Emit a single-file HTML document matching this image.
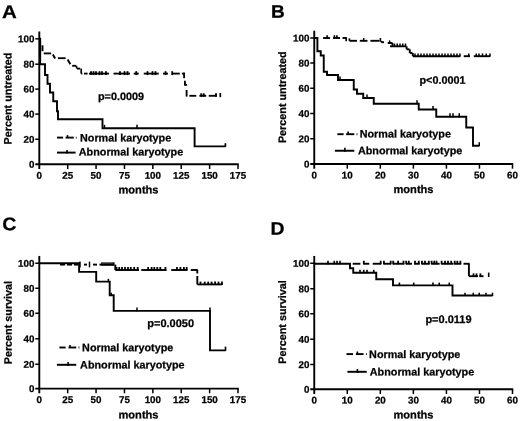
<!DOCTYPE html><html><head><meta charset="utf-8"><title>KM</title>
<style>html,body{margin:0;padding:0;background:#fff;overflow:hidden;width:520px;height:421px;}svg{display:block;will-change:transform;}text{font-family:'Liberation Sans', sans-serif;font-weight:bold;fill:#000;stroke:#000;stroke-width:0.25px;text-rendering:geometricPrecision;}</style></head><body>
<svg width="520" height="421" viewBox="0 0 520 421">
<rect width="520" height="421" fill="#fff"/>
<text transform="translate(1.90,18.00) rotate(0.03) scale(1.12,1)" font-size="18.3">A</text>
<line x1="39.30" y1="31.50" x2="39.30" y2="169.00" stroke="#000" stroke-width="1.9" />
<line x1="35.30" y1="164.30" x2="238.70" y2="164.30" stroke="#000" stroke-width="1.9" />
<text transform="translate(34.40,167.70) rotate(0.03)" font-size="9.8" text-anchor="end" >0</text>
<line x1="35.30" y1="139.25" x2="39.30" y2="139.25" stroke="#000" stroke-width="1.5" />
<text transform="translate(34.40,142.65) rotate(0.03)" font-size="9.8" text-anchor="end" >20</text>
<line x1="35.30" y1="114.10" x2="39.30" y2="114.10" stroke="#000" stroke-width="1.5" />
<text transform="translate(34.40,117.50) rotate(0.03)" font-size="9.8" text-anchor="end" >40</text>
<line x1="35.30" y1="89.10" x2="39.30" y2="89.10" stroke="#000" stroke-width="1.5" />
<text transform="translate(34.40,92.50) rotate(0.03)" font-size="9.8" text-anchor="end" >60</text>
<line x1="35.30" y1="64.20" x2="39.30" y2="64.20" stroke="#000" stroke-width="1.5" />
<text transform="translate(34.40,67.60) rotate(0.03)" font-size="9.8" text-anchor="end" >80</text>
<line x1="35.30" y1="38.80" x2="39.30" y2="38.80" stroke="#000" stroke-width="1.5" />
<text transform="translate(34.40,42.20) rotate(0.03)" font-size="9.8" text-anchor="end" >100</text>
<text transform="translate(39.30,178.80) rotate(0.03)" font-size="9.8" text-anchor="middle" >0</text>
<line x1="67.69" y1="164.30" x2="67.69" y2="169.00" stroke="#000" stroke-width="1.5" />
<text transform="translate(67.69,178.80) rotate(0.03)" font-size="9.8" text-anchor="middle" >25</text>
<line x1="96.07" y1="164.30" x2="96.07" y2="169.00" stroke="#000" stroke-width="1.5" />
<text transform="translate(96.07,178.80) rotate(0.03)" font-size="9.8" text-anchor="middle" >50</text>
<line x1="124.46" y1="164.30" x2="124.46" y2="169.00" stroke="#000" stroke-width="1.5" />
<text transform="translate(124.46,178.80) rotate(0.03)" font-size="9.8" text-anchor="middle" >75</text>
<line x1="152.84" y1="164.30" x2="152.84" y2="169.00" stroke="#000" stroke-width="1.5" />
<text transform="translate(152.84,178.80) rotate(0.03)" font-size="9.8" text-anchor="middle" >100</text>
<line x1="181.23" y1="164.30" x2="181.23" y2="169.00" stroke="#000" stroke-width="1.5" />
<text transform="translate(181.23,178.80) rotate(0.03)" font-size="9.8" text-anchor="middle" >125</text>
<line x1="209.61" y1="164.30" x2="209.61" y2="169.00" stroke="#000" stroke-width="1.5" />
<text transform="translate(209.61,178.80) rotate(0.03)" font-size="9.8" text-anchor="middle" >150</text>
<line x1="238.00" y1="164.30" x2="238.00" y2="169.00" stroke="#000" stroke-width="1.5" />
<text transform="translate(238.00,178.80) rotate(0.03)" font-size="9.8" text-anchor="middle" >175</text>
<text transform="translate(138.50,193.60) rotate(0.03)" font-size="11.1" text-anchor="middle" >months</text>
<text transform="translate(11.50,98.50) rotate(-90.03)" font-size="10.8" text-anchor="middle">Percent untreated</text>
<path d="M39.30,38.80 L40.20,38.80 L40.20,64.20 L45.00,64.20 L45.00,75.00 L47.50,75.00 L47.50,83.75 L50.00,83.75 L50.00,92.50 L53.25,92.50 L53.25,101.25 L57.00,101.25 L57.00,111.25 L58.00,111.25 L58.00,119.25 L102.50,119.25 L102.50,128.25 L194.60,128.25 L194.60,146.40 L225.50,146.40" fill="none" stroke="#000" stroke-width="1.9" stroke-linejoin="miter" />
<line x1="104.50" y1="128.75" x2="104.50" y2="124.85" stroke="#000" stroke-width="1.5" />
<line x1="137.00" y1="128.75" x2="137.00" y2="124.85" stroke="#000" stroke-width="1.5" />
<line x1="225.40" y1="146.90" x2="225.40" y2="143.20" stroke="#000" stroke-width="1.7" />
<line x1="42.50" y1="45.30" x2="42.50" y2="51.20" stroke="#000" stroke-width="1.9" />
<line x1="43.70" y1="53.40" x2="51.20" y2="53.40" stroke="#000" stroke-width="1.85" />
<line x1="52.80" y1="54.60" x2="55.20" y2="58.60" stroke="#000" stroke-width="1.9" />
<line x1="57.90" y1="58.20" x2="65.60" y2="58.20" stroke="#000" stroke-width="1.85" />
<line x1="67.60" y1="59.60" x2="70.40" y2="64.20" stroke="#000" stroke-width="1.9" />
<line x1="72.20" y1="65.80" x2="76.20" y2="65.80" stroke="#000" stroke-width="1.85" />
<line x1="76.60" y1="65.80" x2="76.60" y2="68.60" stroke="#000" stroke-width="1.5" />
<line x1="77.00" y1="68.60" x2="80.20" y2="68.60" stroke="#000" stroke-width="1.85" />
<line x1="81.20" y1="68.60" x2="81.20" y2="73.60" stroke="#000" stroke-width="1.7" />
<line x1="81.20" y1="73.60" x2="82.40" y2="73.60" stroke="#000" stroke-width="1.85" />
<line x1="84.00" y1="73.60" x2="87.60" y2="73.60" stroke="#000" stroke-width="1.85" />
<line x1="89.00" y1="73.60" x2="109.00" y2="73.60" stroke="#000" stroke-width="1.85" />
<line x1="113.50" y1="73.60" x2="130.00" y2="73.60" stroke="#000" stroke-width="1.85" />
<line x1="133.75" y1="73.60" x2="138.75" y2="73.60" stroke="#000" stroke-width="1.85" />
<line x1="143.75" y1="73.60" x2="158.75" y2="73.60" stroke="#000" stroke-width="1.85" />
<line x1="163.00" y1="73.60" x2="168.00" y2="73.60" stroke="#000" stroke-width="1.85" />
<line x1="171.90" y1="73.60" x2="179.80" y2="73.60" stroke="#000" stroke-width="1.85" />
<line x1="181.90" y1="73.60" x2="184.90" y2="73.60" stroke="#000" stroke-width="1.85" />
<line x1="91.00" y1="75.10" x2="91.00" y2="71.20" stroke="#000" stroke-width="1.8" />
<line x1="93.50" y1="75.10" x2="93.50" y2="71.20" stroke="#000" stroke-width="1.8" />
<line x1="96.00" y1="75.10" x2="96.00" y2="71.20" stroke="#000" stroke-width="1.8" />
<line x1="99.50" y1="75.10" x2="99.50" y2="71.20" stroke="#000" stroke-width="1.8" />
<line x1="102.00" y1="75.10" x2="102.00" y2="71.20" stroke="#000" stroke-width="1.8" />
<line x1="106.00" y1="75.10" x2="106.00" y2="71.20" stroke="#000" stroke-width="1.8" />
<line x1="120.00" y1="75.10" x2="120.00" y2="71.20" stroke="#000" stroke-width="1.8" />
<line x1="124.50" y1="75.10" x2="124.50" y2="71.20" stroke="#000" stroke-width="1.8" />
<line x1="127.50" y1="75.10" x2="127.50" y2="71.20" stroke="#000" stroke-width="1.8" />
<line x1="136.25" y1="75.10" x2="136.25" y2="71.20" stroke="#000" stroke-width="1.8" />
<line x1="147.50" y1="75.10" x2="147.50" y2="71.20" stroke="#000" stroke-width="1.8" />
<line x1="152.50" y1="75.10" x2="152.50" y2="71.20" stroke="#000" stroke-width="1.8" />
<line x1="155.50" y1="75.10" x2="155.50" y2="71.20" stroke="#000" stroke-width="1.8" />
<line x1="165.50" y1="75.10" x2="165.50" y2="71.20" stroke="#000" stroke-width="1.8" />
<line x1="172.20" y1="75.10" x2="172.20" y2="71.20" stroke="#000" stroke-width="1.8" />
<line x1="184.10" y1="72.70" x2="184.10" y2="78.20" stroke="#000" stroke-width="1.85" />
<line x1="184.90" y1="80.75" x2="184.90" y2="85.60" stroke="#000" stroke-width="1.85" />
<line x1="184.90" y1="84.80" x2="187.10" y2="84.80" stroke="#000" stroke-width="1.85" />
<line x1="186.60" y1="90.00" x2="186.60" y2="96.60" stroke="#000" stroke-width="1.85" />
<line x1="189.40" y1="95.80" x2="196.25" y2="95.80" stroke="#000" stroke-width="1.85" />
<line x1="199.40" y1="95.80" x2="206.25" y2="95.80" stroke="#000" stroke-width="1.85" />
<line x1="208.75" y1="95.80" x2="216.90" y2="95.80" stroke="#000" stroke-width="1.85" />
<line x1="201.25" y1="96.70" x2="201.25" y2="93.30" stroke="#000" stroke-width="1.9" />
<line x1="203.75" y1="96.70" x2="203.75" y2="93.30" stroke="#000" stroke-width="1.9" />
<line x1="216.00" y1="96.70" x2="216.00" y2="93.30" stroke="#000" stroke-width="1.9" />
<line x1="220.30" y1="97.20" x2="220.30" y2="93.00" stroke="#000" stroke-width="1.7" />
<text transform="translate(98.00,100.00) rotate(0.03)" font-size="10.8" text-anchor="start" >p=0.0009</text>
<line x1="57.00" y1="137.60" x2="63.10" y2="137.60" stroke="#000" stroke-width="1.9" />
<line x1="65.60" y1="137.60" x2="73.75" y2="137.60" stroke="#000" stroke-width="1.9" />
<line x1="75.80" y1="137.60" x2="76.60" y2="137.60" stroke="#000" stroke-width="1.9" />
<line x1="67.50" y1="138.10" x2="67.50" y2="135.10" stroke="#000" stroke-width="1.6" />
<text transform="translate(80.00,141.50) rotate(0.03)" font-size="10.8" text-anchor="start" >Normal karyotype</text>
<line x1="57.00" y1="152.60" x2="75.60" y2="152.60" stroke="#000" stroke-width="1.95" />
<line x1="67.00" y1="153.60" x2="67.00" y2="149.90" stroke="#000" stroke-width="1.6" />
<text transform="translate(78.80,155.40) rotate(0.03)" font-size="10.8" text-anchor="start" >Abnormal karyotype</text>
<text transform="translate(270.90,17.70) rotate(0.03) scale(1.04,1)" font-size="18.3">B</text>
<line x1="314.25" y1="30.70" x2="314.25" y2="168.70" stroke="#000" stroke-width="1.9" />
<line x1="310.25" y1="164.00" x2="513.20" y2="164.00" stroke="#000" stroke-width="1.9" />
<text transform="translate(309.35,167.40) rotate(0.03)" font-size="9.8" text-anchor="end" >0</text>
<line x1="310.25" y1="138.75" x2="314.25" y2="138.75" stroke="#000" stroke-width="1.5" />
<text transform="translate(309.35,142.15) rotate(0.03)" font-size="9.8" text-anchor="end" >20</text>
<line x1="310.25" y1="113.50" x2="314.25" y2="113.50" stroke="#000" stroke-width="1.5" />
<text transform="translate(309.35,116.90) rotate(0.03)" font-size="9.8" text-anchor="end" >40</text>
<line x1="310.25" y1="88.25" x2="314.25" y2="88.25" stroke="#000" stroke-width="1.5" />
<text transform="translate(309.35,91.65) rotate(0.03)" font-size="9.8" text-anchor="end" >60</text>
<line x1="310.25" y1="63.00" x2="314.25" y2="63.00" stroke="#000" stroke-width="1.5" />
<text transform="translate(309.35,66.40) rotate(0.03)" font-size="9.8" text-anchor="end" >80</text>
<line x1="310.25" y1="38.00" x2="314.25" y2="38.00" stroke="#000" stroke-width="1.5" />
<text transform="translate(309.35,41.40) rotate(0.03)" font-size="9.8" text-anchor="end" >100</text>
<text transform="translate(314.25,178.50) rotate(0.03)" font-size="9.8" text-anchor="middle" >0</text>
<line x1="347.29" y1="164.00" x2="347.29" y2="168.70" stroke="#000" stroke-width="1.5" />
<text transform="translate(347.29,178.50) rotate(0.03)" font-size="9.8" text-anchor="middle" >10</text>
<line x1="380.33" y1="164.00" x2="380.33" y2="168.70" stroke="#000" stroke-width="1.5" />
<text transform="translate(380.33,178.50) rotate(0.03)" font-size="9.8" text-anchor="middle" >20</text>
<line x1="413.38" y1="164.00" x2="413.38" y2="168.70" stroke="#000" stroke-width="1.5" />
<text transform="translate(413.38,178.50) rotate(0.03)" font-size="9.8" text-anchor="middle" >30</text>
<line x1="446.42" y1="164.00" x2="446.42" y2="168.70" stroke="#000" stroke-width="1.5" />
<text transform="translate(446.42,178.50) rotate(0.03)" font-size="9.8" text-anchor="middle" >40</text>
<line x1="479.46" y1="164.00" x2="479.46" y2="168.70" stroke="#000" stroke-width="1.5" />
<text transform="translate(479.46,178.50) rotate(0.03)" font-size="9.8" text-anchor="middle" >50</text>
<line x1="512.50" y1="164.00" x2="512.50" y2="168.70" stroke="#000" stroke-width="1.5" />
<text transform="translate(512.50,178.50) rotate(0.03)" font-size="9.8" text-anchor="middle" >60</text>
<text transform="translate(413.50,192.90) rotate(0.03)" font-size="11.1" text-anchor="middle" >months</text>
<text transform="translate(286.00,97.20) rotate(-90.03)" font-size="10.8" text-anchor="middle">Percent untreated</text>
<path d="M314.25,38.00 L317.40,38.00 L317.40,51.25 L320.75,51.25 L320.75,55.50 L323.75,55.50 L323.75,71.75 L327.00,71.75 L327.00,75.00 L338.00,75.00 L338.00,80.00 L353.75,80.00 L353.75,89.50 L357.00,89.50 L357.00,93.75 L363.25,93.75 L363.25,98.00 L373.75,98.00 L373.75,103.75 L418.75,103.75 L418.75,109.50 L436.25,109.50 L436.25,116.75 L466.25,116.75 L466.25,127.50 L473.00,127.50 L473.00,145.75 L479.25,145.75" fill="none" stroke="#000" stroke-width="1.9" stroke-linejoin="miter" />
<line x1="340.00" y1="80.50" x2="340.00" y2="76.60" stroke="#000" stroke-width="1.5" />
<line x1="367.00" y1="98.50" x2="367.00" y2="94.60" stroke="#000" stroke-width="1.5" />
<line x1="417.00" y1="104.25" x2="417.00" y2="100.35" stroke="#000" stroke-width="1.5" />
<line x1="433.00" y1="110.00" x2="433.00" y2="106.10" stroke="#000" stroke-width="1.5" />
<line x1="450.00" y1="117.25" x2="450.00" y2="113.35" stroke="#000" stroke-width="1.5" />
<line x1="453.00" y1="117.25" x2="453.00" y2="113.35" stroke="#000" stroke-width="1.5" />
<line x1="459.25" y1="117.25" x2="459.25" y2="113.35" stroke="#000" stroke-width="1.5" />
<line x1="479.25" y1="146.25" x2="479.25" y2="142.35" stroke="#000" stroke-width="1.5" />
<line x1="314.25" y1="38.00" x2="317.60" y2="38.00" stroke="#000" stroke-width="1.9" />
<line x1="323.10" y1="38.00" x2="330.00" y2="38.00" stroke="#000" stroke-width="1.9" />
<line x1="333.10" y1="38.00" x2="340.00" y2="38.00" stroke="#000" stroke-width="1.9" />
<line x1="342.50" y1="38.00" x2="346.20" y2="38.00" stroke="#000" stroke-width="1.9" />
<line x1="327.10" y1="38.50" x2="327.10" y2="35.20" stroke="#000" stroke-width="1.6" />
<line x1="334.40" y1="38.50" x2="334.40" y2="35.20" stroke="#000" stroke-width="1.6" />
<line x1="336.90" y1="38.50" x2="336.90" y2="35.20" stroke="#000" stroke-width="1.6" />
<line x1="346.20" y1="37.20" x2="346.20" y2="41.20" stroke="#000" stroke-width="1.7" />
<line x1="349.40" y1="38.40" x2="349.40" y2="40.80" stroke="#000" stroke-width="1.7" />
<line x1="349.40" y1="40.80" x2="357.00" y2="40.80" stroke="#000" stroke-width="1.9" />
<line x1="359.80" y1="40.80" x2="367.50" y2="40.80" stroke="#000" stroke-width="1.9" />
<line x1="370.40" y1="40.80" x2="379.50" y2="40.80" stroke="#000" stroke-width="1.9" />
<line x1="363.70" y1="41.30" x2="363.70" y2="38.00" stroke="#000" stroke-width="1.5" />
<line x1="380.40" y1="41.30" x2="380.40" y2="38.00" stroke="#000" stroke-width="1.5" />
<line x1="381.20" y1="40.80" x2="381.20" y2="42.20" stroke="#000" stroke-width="1.9" />
<line x1="381.20" y1="42.20" x2="384.00" y2="42.20" stroke="#000" stroke-width="1.9" />
<line x1="387.70" y1="43.00" x2="392.50" y2="43.00" stroke="#000" stroke-width="1.9" />
<line x1="389.60" y1="43.50" x2="389.60" y2="40.40" stroke="#000" stroke-width="1.5" />
<line x1="392.50" y1="43.00" x2="392.50" y2="46.30" stroke="#000" stroke-width="1.9" />
<line x1="390.00" y1="46.30" x2="406.25" y2="46.30" stroke="#000" stroke-width="1.9" />
<line x1="394.50" y1="46.80" x2="394.50" y2="43.50" stroke="#000" stroke-width="1.5" />
<line x1="397.25" y1="46.80" x2="397.25" y2="43.50" stroke="#000" stroke-width="1.5" />
<line x1="400.00" y1="46.80" x2="400.00" y2="43.50" stroke="#000" stroke-width="1.5" />
<line x1="402.75" y1="46.80" x2="402.75" y2="43.50" stroke="#000" stroke-width="1.5" />
<line x1="405.50" y1="46.80" x2="405.50" y2="43.50" stroke="#000" stroke-width="1.5" />
<line x1="406.60" y1="46.30" x2="406.60" y2="49.30" stroke="#000" stroke-width="1.9" />
<line x1="406.60" y1="49.30" x2="409.50" y2="49.30" stroke="#000" stroke-width="1.9" />
<line x1="409.80" y1="49.30" x2="409.80" y2="53.00" stroke="#000" stroke-width="1.9" />
<line x1="409.80" y1="53.00" x2="412.50" y2="53.00" stroke="#000" stroke-width="1.9" />
<line x1="412.80" y1="53.00" x2="412.80" y2="56.20" stroke="#000" stroke-width="1.9" />
<line x1="412.80" y1="56.20" x2="460.00" y2="56.20" stroke="#000" stroke-width="1.9" />
<line x1="463.75" y1="56.20" x2="470.00" y2="56.20" stroke="#000" stroke-width="1.9" />
<line x1="473.75" y1="56.20" x2="490.00" y2="56.20" stroke="#000" stroke-width="1.9" />
<line x1="415.00" y1="56.70" x2="415.00" y2="53.40" stroke="#000" stroke-width="1.5" />
<line x1="418.00" y1="56.70" x2="418.00" y2="53.40" stroke="#000" stroke-width="1.5" />
<line x1="421.00" y1="56.70" x2="421.00" y2="53.40" stroke="#000" stroke-width="1.5" />
<line x1="424.00" y1="56.70" x2="424.00" y2="53.40" stroke="#000" stroke-width="1.5" />
<line x1="427.00" y1="56.70" x2="427.00" y2="53.40" stroke="#000" stroke-width="1.5" />
<line x1="430.00" y1="56.70" x2="430.00" y2="53.40" stroke="#000" stroke-width="1.5" />
<line x1="433.00" y1="56.70" x2="433.00" y2="53.40" stroke="#000" stroke-width="1.5" />
<line x1="436.00" y1="56.70" x2="436.00" y2="53.40" stroke="#000" stroke-width="1.5" />
<line x1="439.00" y1="56.70" x2="439.00" y2="53.40" stroke="#000" stroke-width="1.5" />
<line x1="442.00" y1="56.70" x2="442.00" y2="53.40" stroke="#000" stroke-width="1.5" />
<line x1="445.00" y1="56.70" x2="445.00" y2="53.40" stroke="#000" stroke-width="1.5" />
<line x1="448.00" y1="56.70" x2="448.00" y2="53.40" stroke="#000" stroke-width="1.5" />
<line x1="451.00" y1="56.70" x2="451.00" y2="53.40" stroke="#000" stroke-width="1.5" />
<line x1="454.00" y1="56.70" x2="454.00" y2="53.40" stroke="#000" stroke-width="1.5" />
<line x1="457.00" y1="56.70" x2="457.00" y2="53.40" stroke="#000" stroke-width="1.5" />
<line x1="460.00" y1="56.70" x2="460.00" y2="53.40" stroke="#000" stroke-width="1.5" />
<line x1="468.75" y1="56.70" x2="468.75" y2="53.40" stroke="#000" stroke-width="1.5" />
<line x1="476.25" y1="56.70" x2="476.25" y2="53.40" stroke="#000" stroke-width="1.5" />
<line x1="479.00" y1="56.70" x2="479.00" y2="53.40" stroke="#000" stroke-width="1.5" />
<line x1="482.50" y1="56.70" x2="482.50" y2="53.40" stroke="#000" stroke-width="1.5" />
<line x1="486.25" y1="56.70" x2="486.25" y2="53.40" stroke="#000" stroke-width="1.5" />
<line x1="490.00" y1="56.70" x2="490.00" y2="53.40" stroke="#000" stroke-width="1.5" />
<text transform="translate(419.50,83.75) rotate(0.03)" font-size="10.8" text-anchor="start" >p&lt;0.0001</text>
<line x1="337.40" y1="134.20" x2="343.60" y2="134.20" stroke="#000" stroke-width="1.9" />
<line x1="346.10" y1="134.20" x2="354.30" y2="134.20" stroke="#000" stroke-width="1.9" />
<line x1="356.60" y1="134.20" x2="357.40" y2="134.20" stroke="#000" stroke-width="1.9" />
<line x1="348.10" y1="134.70" x2="348.10" y2="131.60" stroke="#000" stroke-width="1.6" />
<text transform="translate(359.70,137.50) rotate(0.03)" font-size="10.8" text-anchor="start" >Normal karyotype</text>
<line x1="334.90" y1="150.75" x2="354.30" y2="150.75" stroke="#000" stroke-width="1.95" />
<line x1="344.90" y1="151.75" x2="344.90" y2="147.85" stroke="#000" stroke-width="1.6" />
<text transform="translate(357.90,154.25) rotate(0.03)" font-size="10.8" text-anchor="start" >Abnormal karyotype</text>
<text transform="translate(2.20,230.30) rotate(0.03) scale(1.07,1)" font-size="18.3">C</text>
<line x1="39.30" y1="255.95" x2="39.30" y2="393.30" stroke="#000" stroke-width="1.9" />
<line x1="35.30" y1="388.60" x2="238.70" y2="388.60" stroke="#000" stroke-width="1.9" />
<text transform="translate(34.40,392.00) rotate(0.03)" font-size="9.8" text-anchor="end" >0</text>
<line x1="35.30" y1="364.25" x2="39.30" y2="364.25" stroke="#000" stroke-width="1.5" />
<text transform="translate(34.40,367.65) rotate(0.03)" font-size="9.8" text-anchor="end" >20</text>
<line x1="35.30" y1="338.75" x2="39.30" y2="338.75" stroke="#000" stroke-width="1.5" />
<text transform="translate(34.40,342.15) rotate(0.03)" font-size="9.8" text-anchor="end" >40</text>
<line x1="35.30" y1="313.25" x2="39.30" y2="313.25" stroke="#000" stroke-width="1.5" />
<text transform="translate(34.40,316.65) rotate(0.03)" font-size="9.8" text-anchor="end" >60</text>
<line x1="35.30" y1="288.25" x2="39.30" y2="288.25" stroke="#000" stroke-width="1.5" />
<text transform="translate(34.40,291.65) rotate(0.03)" font-size="9.8" text-anchor="end" >80</text>
<line x1="35.30" y1="263.25" x2="39.30" y2="263.25" stroke="#000" stroke-width="1.5" />
<text transform="translate(34.40,266.65) rotate(0.03)" font-size="9.8" text-anchor="end" >100</text>
<text transform="translate(39.30,403.00) rotate(0.03)" font-size="9.8" text-anchor="middle" >0</text>
<line x1="67.69" y1="388.60" x2="67.69" y2="393.30" stroke="#000" stroke-width="1.5" />
<text transform="translate(67.69,403.00) rotate(0.03)" font-size="9.8" text-anchor="middle" >25</text>
<line x1="96.07" y1="388.60" x2="96.07" y2="393.30" stroke="#000" stroke-width="1.5" />
<text transform="translate(96.07,403.00) rotate(0.03)" font-size="9.8" text-anchor="middle" >50</text>
<line x1="124.46" y1="388.60" x2="124.46" y2="393.30" stroke="#000" stroke-width="1.5" />
<text transform="translate(124.46,403.00) rotate(0.03)" font-size="9.8" text-anchor="middle" >75</text>
<line x1="152.84" y1="388.60" x2="152.84" y2="393.30" stroke="#000" stroke-width="1.5" />
<text transform="translate(152.84,403.00) rotate(0.03)" font-size="9.8" text-anchor="middle" >100</text>
<line x1="181.23" y1="388.60" x2="181.23" y2="393.30" stroke="#000" stroke-width="1.5" />
<text transform="translate(181.23,403.00) rotate(0.03)" font-size="9.8" text-anchor="middle" >125</text>
<line x1="209.61" y1="388.60" x2="209.61" y2="393.30" stroke="#000" stroke-width="1.5" />
<text transform="translate(209.61,403.00) rotate(0.03)" font-size="9.8" text-anchor="middle" >150</text>
<line x1="238.00" y1="388.60" x2="238.00" y2="393.30" stroke="#000" stroke-width="1.5" />
<text transform="translate(238.00,403.00) rotate(0.03)" font-size="9.8" text-anchor="middle" >175</text>
<text transform="translate(138.50,418.50) rotate(0.03)" font-size="11.1" text-anchor="middle" >months</text>
<text transform="translate(11.80,322.60) rotate(-90.03)" font-size="10.8" text-anchor="middle">Percent survival</text>
<path d="M39.30,263.25 L79.10,263.25 L79.10,271.90 L96.20,271.90 L96.20,281.60 L109.70,281.60 L109.70,295.30 L113.70,295.30 L113.70,310.90 L210.00,310.90 L210.00,350.40 L225.60,350.40" fill="none" stroke="#000" stroke-width="1.9" stroke-linejoin="miter" />
<line x1="108.40" y1="282.10" x2="108.40" y2="278.80" stroke="#000" stroke-width="1.5" />
<line x1="111.30" y1="295.80" x2="111.30" y2="292.70" stroke="#000" stroke-width="1.5" />
<line x1="137.00" y1="311.40" x2="137.00" y2="307.50" stroke="#000" stroke-width="1.5" />
<line x1="210.00" y1="311.40" x2="210.00" y2="307.50" stroke="#000" stroke-width="1.5" />
<line x1="225.50" y1="350.90" x2="225.50" y2="346.60" stroke="#000" stroke-width="1.6" />
<line x1="60.00" y1="264.60" x2="65.00" y2="264.60" stroke="#000" stroke-width="1.9" />
<line x1="67.00" y1="264.60" x2="72.00" y2="264.60" stroke="#000" stroke-width="1.9" />
<line x1="74.00" y1="264.60" x2="78.00" y2="264.60" stroke="#000" stroke-width="1.9" />
<line x1="84.00" y1="264.60" x2="87.00" y2="264.60" stroke="#000" stroke-width="1.9" />
<line x1="93.00" y1="264.60" x2="97.00" y2="264.60" stroke="#000" stroke-width="1.9" />
<line x1="99.50" y1="264.60" x2="114.00" y2="264.60" stroke="#000" stroke-width="1.9" />
<line x1="80.00" y1="261.60" x2="80.00" y2="267.40" stroke="#000" stroke-width="1.45" />
<line x1="89.50" y1="261.60" x2="89.50" y2="267.40" stroke="#000" stroke-width="1.45" />
<line x1="102.00" y1="265.80" x2="102.00" y2="262.20" stroke="#000" stroke-width="1.5" />
<line x1="104.00" y1="265.80" x2="104.00" y2="262.20" stroke="#000" stroke-width="1.5" />
<line x1="106.00" y1="265.80" x2="106.00" y2="262.20" stroke="#000" stroke-width="1.5" />
<line x1="108.00" y1="265.80" x2="108.00" y2="262.20" stroke="#000" stroke-width="1.5" />
<line x1="110.00" y1="265.80" x2="110.00" y2="262.20" stroke="#000" stroke-width="1.5" />
<line x1="112.00" y1="265.80" x2="112.00" y2="262.20" stroke="#000" stroke-width="1.5" />
<line x1="113.80" y1="265.80" x2="113.80" y2="262.20" stroke="#000" stroke-width="1.5" />
<line x1="115.30" y1="264.60" x2="115.30" y2="270.00" stroke="#000" stroke-width="1.9" />
<line x1="115.30" y1="270.00" x2="139.00" y2="270.00" stroke="#000" stroke-width="1.9" />
<line x1="141.20" y1="270.00" x2="166.50" y2="270.00" stroke="#000" stroke-width="1.9" />
<line x1="171.20" y1="270.00" x2="187.40" y2="270.00" stroke="#000" stroke-width="1.9" />
<line x1="190.80" y1="270.00" x2="197.70" y2="270.00" stroke="#000" stroke-width="1.9" />
<line x1="116.50" y1="270.50" x2="116.50" y2="267.00" stroke="#000" stroke-width="1.8" />
<line x1="119.20" y1="270.50" x2="119.20" y2="267.00" stroke="#000" stroke-width="1.8" />
<line x1="122.00" y1="270.50" x2="122.00" y2="267.00" stroke="#000" stroke-width="1.8" />
<line x1="125.00" y1="270.50" x2="125.00" y2="267.00" stroke="#000" stroke-width="1.8" />
<line x1="128.00" y1="270.50" x2="128.00" y2="267.00" stroke="#000" stroke-width="1.8" />
<line x1="130.80" y1="270.50" x2="130.80" y2="267.00" stroke="#000" stroke-width="1.8" />
<line x1="134.20" y1="270.50" x2="134.20" y2="267.00" stroke="#000" stroke-width="1.8" />
<line x1="137.70" y1="270.50" x2="137.70" y2="267.00" stroke="#000" stroke-width="1.8" />
<line x1="148.10" y1="270.50" x2="148.10" y2="267.00" stroke="#000" stroke-width="1.8" />
<line x1="151.60" y1="270.50" x2="151.60" y2="267.00" stroke="#000" stroke-width="1.8" />
<line x1="154.30" y1="270.50" x2="154.30" y2="267.00" stroke="#000" stroke-width="1.8" />
<line x1="157.30" y1="270.50" x2="157.30" y2="267.00" stroke="#000" stroke-width="1.8" />
<line x1="160.30" y1="270.50" x2="160.30" y2="267.00" stroke="#000" stroke-width="1.8" />
<line x1="165.40" y1="270.50" x2="165.40" y2="267.00" stroke="#000" stroke-width="1.8" />
<line x1="177.00" y1="270.50" x2="177.00" y2="267.00" stroke="#000" stroke-width="1.8" />
<line x1="180.40" y1="270.50" x2="180.40" y2="267.00" stroke="#000" stroke-width="1.8" />
<line x1="183.90" y1="270.50" x2="183.90" y2="267.00" stroke="#000" stroke-width="1.8" />
<line x1="186.70" y1="270.50" x2="186.70" y2="267.00" stroke="#000" stroke-width="1.8" />
<line x1="197.30" y1="270.00" x2="197.30" y2="273.50" stroke="#000" stroke-width="1.9" />
<line x1="197.30" y1="276.00" x2="197.30" y2="284.40" stroke="#000" stroke-width="1.9" />
<line x1="197.30" y1="284.40" x2="222.00" y2="284.40" stroke="#000" stroke-width="1.9" />
<line x1="200.50" y1="284.90" x2="200.50" y2="281.60" stroke="#000" stroke-width="1.8" />
<line x1="204.70" y1="284.90" x2="204.70" y2="281.60" stroke="#000" stroke-width="1.8" />
<line x1="208.20" y1="284.90" x2="208.20" y2="281.60" stroke="#000" stroke-width="1.8" />
<line x1="211.60" y1="284.90" x2="211.60" y2="281.60" stroke="#000" stroke-width="1.8" />
<line x1="215.10" y1="284.90" x2="215.10" y2="281.60" stroke="#000" stroke-width="1.8" />
<line x1="218.50" y1="284.90" x2="218.50" y2="281.60" stroke="#000" stroke-width="1.8" />
<line x1="222.00" y1="284.90" x2="222.00" y2="281.60" stroke="#000" stroke-width="1.8" />
<text transform="translate(147.30,327.10) rotate(0.03)" font-size="11.0" text-anchor="start" >p=0.0050</text>
<line x1="59.40" y1="347.50" x2="65.60" y2="347.50" stroke="#000" stroke-width="1.9" />
<line x1="68.50" y1="347.50" x2="76.25" y2="347.50" stroke="#000" stroke-width="1.9" />
<line x1="78.60" y1="347.50" x2="79.40" y2="347.50" stroke="#000" stroke-width="1.9" />
<line x1="70.00" y1="348.00" x2="70.00" y2="344.90" stroke="#000" stroke-width="1.6" />
<text transform="translate(82.10,351.30) rotate(0.03)" font-size="10.8" text-anchor="start" >Normal karyotype</text>
<line x1="56.90" y1="364.80" x2="76.25" y2="364.80" stroke="#000" stroke-width="1.95" />
<line x1="68.10" y1="366.00" x2="68.10" y2="362.00" stroke="#000" stroke-width="1.6" />
<text transform="translate(80.10,368.50) rotate(0.03)" font-size="10.8" text-anchor="start" >Abnormal karyotype</text>
<text transform="translate(270.60,234.70) rotate(0.03) scale(1.06,1)" font-size="18.3">D</text>
<line x1="314.25" y1="255.95" x2="314.25" y2="394.00" stroke="#000" stroke-width="1.9" />
<line x1="310.25" y1="389.30" x2="513.20" y2="389.30" stroke="#000" stroke-width="1.9" />
<text transform="translate(309.35,392.70) rotate(0.03)" font-size="9.8" text-anchor="end" >0</text>
<line x1="310.25" y1="364.50" x2="314.25" y2="364.50" stroke="#000" stroke-width="1.5" />
<text transform="translate(309.35,367.90) rotate(0.03)" font-size="9.8" text-anchor="end" >20</text>
<line x1="310.25" y1="339.25" x2="314.25" y2="339.25" stroke="#000" stroke-width="1.5" />
<text transform="translate(309.35,342.65) rotate(0.03)" font-size="9.8" text-anchor="end" >40</text>
<line x1="310.25" y1="313.75" x2="314.25" y2="313.75" stroke="#000" stroke-width="1.5" />
<text transform="translate(309.35,317.15) rotate(0.03)" font-size="9.8" text-anchor="end" >60</text>
<line x1="310.25" y1="288.75" x2="314.25" y2="288.75" stroke="#000" stroke-width="1.5" />
<text transform="translate(309.35,292.15) rotate(0.03)" font-size="9.8" text-anchor="end" >80</text>
<line x1="310.25" y1="263.25" x2="314.25" y2="263.25" stroke="#000" stroke-width="1.5" />
<text transform="translate(309.35,266.65) rotate(0.03)" font-size="9.8" text-anchor="end" >100</text>
<text transform="translate(314.25,403.50) rotate(0.03)" font-size="9.8" text-anchor="middle" >0</text>
<line x1="347.29" y1="389.30" x2="347.29" y2="394.00" stroke="#000" stroke-width="1.5" />
<text transform="translate(347.29,403.50) rotate(0.03)" font-size="9.8" text-anchor="middle" >10</text>
<line x1="380.33" y1="389.30" x2="380.33" y2="394.00" stroke="#000" stroke-width="1.5" />
<text transform="translate(380.33,403.50) rotate(0.03)" font-size="9.8" text-anchor="middle" >20</text>
<line x1="413.38" y1="389.30" x2="413.38" y2="394.00" stroke="#000" stroke-width="1.5" />
<text transform="translate(413.38,403.50) rotate(0.03)" font-size="9.8" text-anchor="middle" >30</text>
<line x1="446.42" y1="389.30" x2="446.42" y2="394.00" stroke="#000" stroke-width="1.5" />
<text transform="translate(446.42,403.50) rotate(0.03)" font-size="9.8" text-anchor="middle" >40</text>
<line x1="479.46" y1="389.30" x2="479.46" y2="394.00" stroke="#000" stroke-width="1.5" />
<text transform="translate(479.46,403.50) rotate(0.03)" font-size="9.8" text-anchor="middle" >50</text>
<line x1="512.50" y1="389.30" x2="512.50" y2="394.00" stroke="#000" stroke-width="1.5" />
<text transform="translate(512.50,403.50) rotate(0.03)" font-size="9.8" text-anchor="middle" >60</text>
<text transform="translate(413.50,418.50) rotate(0.03)" font-size="11.1" text-anchor="middle" >months</text>
<text transform="translate(285.90,322.00) rotate(-90.03)" font-size="10.8" text-anchor="middle">Percent survival</text>
<path d="M314.25,263.70 L350.00,263.70 L350.00,268.20 L353.25,268.20 L353.25,272.70 L376.25,272.70 L376.25,279.30 L393.00,279.30 L393.00,285.40 L452.50,285.40 L452.50,295.50 L492.50,295.50" fill="none" stroke="#000" stroke-width="1.9" stroke-linejoin="miter" />
<line x1="328.00" y1="264.20" x2="328.00" y2="260.80" stroke="#000" stroke-width="1.6" />
<line x1="334.25" y1="264.20" x2="334.25" y2="260.80" stroke="#000" stroke-width="1.6" />
<line x1="337.00" y1="264.20" x2="337.00" y2="260.80" stroke="#000" stroke-width="1.6" />
<line x1="340.00" y1="264.20" x2="340.00" y2="260.80" stroke="#000" stroke-width="1.6" />
<line x1="360.00" y1="273.20" x2="360.00" y2="269.80" stroke="#000" stroke-width="1.6" />
<line x1="363.75" y1="273.20" x2="363.75" y2="269.80" stroke="#000" stroke-width="1.6" />
<line x1="367.00" y1="273.20" x2="367.00" y2="269.80" stroke="#000" stroke-width="1.6" />
<line x1="373.75" y1="273.20" x2="373.75" y2="269.80" stroke="#000" stroke-width="1.6" />
<line x1="399.40" y1="285.90" x2="399.40" y2="282.60" stroke="#000" stroke-width="1.6" />
<line x1="413.75" y1="285.90" x2="413.75" y2="282.60" stroke="#000" stroke-width="1.6" />
<line x1="433.00" y1="285.90" x2="433.00" y2="282.60" stroke="#000" stroke-width="1.6" />
<line x1="439.25" y1="285.90" x2="439.25" y2="282.60" stroke="#000" stroke-width="1.6" />
<line x1="449.25" y1="285.90" x2="449.25" y2="282.60" stroke="#000" stroke-width="1.6" />
<line x1="465.00" y1="296.00" x2="465.00" y2="292.70" stroke="#000" stroke-width="1.5" />
<line x1="473.25" y1="296.00" x2="473.25" y2="292.70" stroke="#000" stroke-width="1.5" />
<line x1="479.25" y1="296.00" x2="479.25" y2="292.70" stroke="#000" stroke-width="1.5" />
<line x1="486.00" y1="296.00" x2="486.00" y2="292.70" stroke="#000" stroke-width="1.5" />
<line x1="492.50" y1="296.00" x2="492.50" y2="292.70" stroke="#000" stroke-width="1.5" />
<line x1="352.70" y1="263.75" x2="360.40" y2="263.75" stroke="#000" stroke-width="1.9" />
<line x1="363.20" y1="263.75" x2="369.30" y2="263.75" stroke="#000" stroke-width="1.9" />
<line x1="372.70" y1="263.75" x2="381.20" y2="263.75" stroke="#000" stroke-width="1.9" />
<line x1="383.50" y1="263.75" x2="391.20" y2="263.75" stroke="#000" stroke-width="1.9" />
<line x1="392.70" y1="263.75" x2="404.20" y2="263.75" stroke="#000" stroke-width="1.9" />
<line x1="405.80" y1="263.75" x2="412.00" y2="263.75" stroke="#000" stroke-width="1.9" />
<line x1="414.20" y1="263.75" x2="419.60" y2="263.75" stroke="#000" stroke-width="1.9" />
<line x1="421.50" y1="263.75" x2="429.60" y2="263.75" stroke="#000" stroke-width="1.9" />
<line x1="431.20" y1="263.75" x2="439.60" y2="263.75" stroke="#000" stroke-width="1.9" />
<line x1="441.20" y1="263.75" x2="453.50" y2="263.75" stroke="#000" stroke-width="1.9" />
<line x1="454.20" y1="263.75" x2="461.20" y2="263.75" stroke="#000" stroke-width="1.9" />
<line x1="463.50" y1="263.75" x2="469.60" y2="263.75" stroke="#000" stroke-width="1.9" />
<line x1="363.80" y1="264.25" x2="363.80" y2="260.75" stroke="#000" stroke-width="1.8" />
<line x1="380.70" y1="264.25" x2="380.70" y2="260.75" stroke="#000" stroke-width="1.8" />
<line x1="383.90" y1="264.25" x2="383.90" y2="260.75" stroke="#000" stroke-width="1.8" />
<line x1="390.70" y1="264.25" x2="390.70" y2="260.75" stroke="#000" stroke-width="1.8" />
<line x1="393.20" y1="264.25" x2="393.20" y2="260.75" stroke="#000" stroke-width="1.8" />
<line x1="398.10" y1="264.25" x2="398.10" y2="260.75" stroke="#000" stroke-width="1.8" />
<line x1="403.50" y1="264.25" x2="403.50" y2="260.75" stroke="#000" stroke-width="1.8" />
<line x1="406.20" y1="264.25" x2="406.20" y2="260.75" stroke="#000" stroke-width="1.8" />
<line x1="408.80" y1="264.25" x2="408.80" y2="260.75" stroke="#000" stroke-width="1.8" />
<line x1="415.00" y1="264.25" x2="415.00" y2="260.75" stroke="#000" stroke-width="1.8" />
<line x1="418.80" y1="264.25" x2="418.80" y2="260.75" stroke="#000" stroke-width="1.8" />
<line x1="422.00" y1="264.25" x2="422.00" y2="260.75" stroke="#000" stroke-width="1.8" />
<line x1="425.00" y1="264.25" x2="425.00" y2="260.75" stroke="#000" stroke-width="1.8" />
<line x1="428.80" y1="264.25" x2="428.80" y2="260.75" stroke="#000" stroke-width="1.8" />
<line x1="431.60" y1="264.25" x2="431.60" y2="260.75" stroke="#000" stroke-width="1.8" />
<line x1="434.20" y1="264.25" x2="434.20" y2="260.75" stroke="#000" stroke-width="1.8" />
<line x1="436.50" y1="264.25" x2="436.50" y2="260.75" stroke="#000" stroke-width="1.8" />
<line x1="441.60" y1="264.25" x2="441.60" y2="260.75" stroke="#000" stroke-width="1.8" />
<line x1="445.00" y1="264.25" x2="445.00" y2="260.75" stroke="#000" stroke-width="1.8" />
<line x1="448.00" y1="264.25" x2="448.00" y2="260.75" stroke="#000" stroke-width="1.8" />
<line x1="451.20" y1="264.25" x2="451.20" y2="260.75" stroke="#000" stroke-width="1.8" />
<line x1="454.70" y1="264.25" x2="454.70" y2="260.75" stroke="#000" stroke-width="1.8" />
<line x1="457.30" y1="264.25" x2="457.30" y2="260.75" stroke="#000" stroke-width="1.8" />
<line x1="460.40" y1="264.25" x2="460.40" y2="260.75" stroke="#000" stroke-width="1.8" />
<line x1="468.90" y1="263.75" x2="468.90" y2="276.20" stroke="#000" stroke-width="1.9" />
<line x1="468.90" y1="276.20" x2="478.00" y2="276.20" stroke="#000" stroke-width="1.9" />
<line x1="479.30" y1="276.20" x2="483.50" y2="276.20" stroke="#000" stroke-width="1.9" />
<line x1="473.50" y1="276.70" x2="473.50" y2="273.40" stroke="#000" stroke-width="1.8" />
<line x1="476.50" y1="276.70" x2="476.50" y2="273.40" stroke="#000" stroke-width="1.8" />
<line x1="480.40" y1="276.70" x2="480.40" y2="273.40" stroke="#000" stroke-width="1.8" />
<line x1="488.70" y1="277.00" x2="488.70" y2="272.60" stroke="#000" stroke-width="1.6" />
<text transform="translate(425.40,322.90) rotate(0.03)" font-size="11.0" text-anchor="start" >p=0.0119</text>
<line x1="346.50" y1="354.10" x2="353.00" y2="354.10" stroke="#000" stroke-width="1.9" />
<line x1="355.90" y1="354.10" x2="363.60" y2="354.10" stroke="#000" stroke-width="1.9" />
<line x1="366.10" y1="354.10" x2="366.90" y2="354.10" stroke="#000" stroke-width="1.9" />
<line x1="357.40" y1="354.60" x2="357.40" y2="351.50" stroke="#000" stroke-width="1.6" />
<text transform="translate(369.10,357.90) rotate(0.03)" font-size="10.8" text-anchor="start" >Normal karyotype</text>
<line x1="347.40" y1="371.80" x2="366.75" y2="371.80" stroke="#000" stroke-width="1.95" />
<line x1="357.40" y1="373.00" x2="357.40" y2="369.00" stroke="#000" stroke-width="1.6" />
<text transform="translate(369.80,375.40) rotate(0.03)" font-size="10.8" text-anchor="start" >Abnormal karyotype</text>
</svg></body></html>
